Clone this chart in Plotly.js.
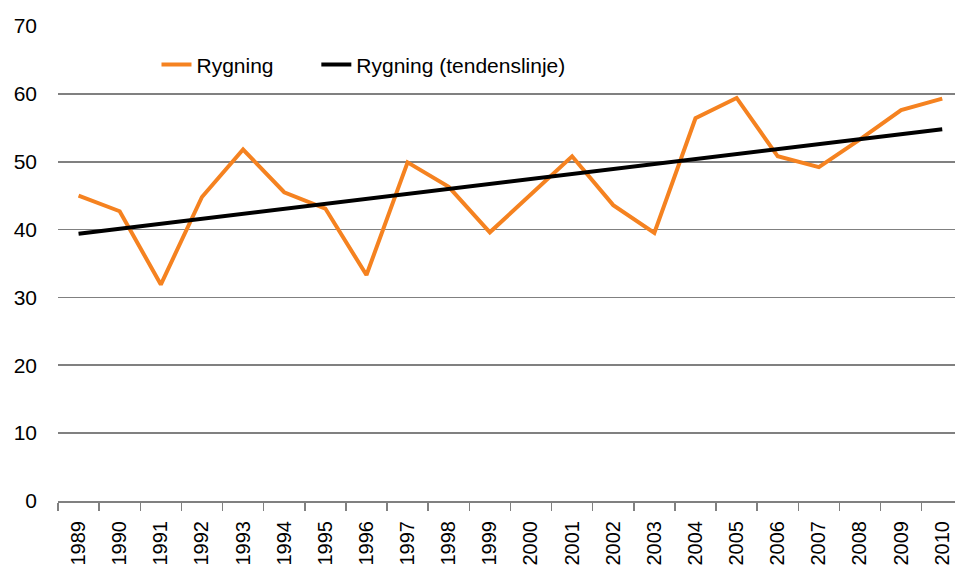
<!DOCTYPE html>
<html>
<head>
<meta charset="utf-8">
<script src="https://cdn.plot.ly/plotly-3.0.1.min.js"></script>
<style>html,body{margin:0;padding:0;background:#fff;}#chart{width:955px;height:570px;}</style>
</head>
<body>
<div id="chart"></div>
<script>
const years = ["1989","1990","1991","1992","1993","1994","1995","1996","1997","1998","1999","2000","2001","2002","2003","2004","2005","2006","2007","2008","2009","2010"];
const rygning = [45.0,42.7,31.9,44.8,51.8,45.5,43.1,33.3,49.9,46.3,39.6,45.1,50.8,43.6,39.5,56.4,59.4,50.8,49.2,53.3,57.6,59.3];
const trendYears = ["1989","2010"];
const trendValues = [39.4,54.8];
const yTicks = [0,10,20,30,40,50,60,70];

const font = "Liberation Sans, Arial, sans-serif";
const legendFont = {family: font, size: 21, color: "#000"};
const data = [
  {x: years, y: rygning, type: "scatter", mode: "lines", name: "Rygning",
   line: {color: "#F58220", width: 4}, legend: "legend"},
  {x: trendYears, y: trendValues, type: "scatter", mode: "lines", name: "Rygning (tendenslinje)",
   line: {color: "#000000", width: 4}, legend: "legend2"}
];
const layout = {
  width: 955, height: 570,
  margin: {l: 58, r: 0, t: 26, b: 69},
  paper_bgcolor: "#fff", plot_bgcolor: "#fff",
  font: {family: font, size: 20, color: "#000"},
  showlegend: true,
  legend: {orientation: "h", x: 0.1098, xanchor: "left", y: 0.918, yanchor: "middle",
    bgcolor: "rgba(0,0,0,0)", font: legendFont, itemwidth: 30},
  legend2: {orientation: "h", x: 0.288, xanchor: "left", y: 0.918, yanchor: "middle",
    bgcolor: "rgba(0,0,0,0)", font: legendFont, itemwidth: 30},
  xaxis: {type: "category", categoryorder: "array", categoryarray: years,
    range: [-0.5, 21.31], tickson: "boundaries", ticks: "outside", ticklen: 8,
    tickwidth: 1.5, tickcolor: "#808080", showline: true, linecolor: "#808080", linewidth: 2,
    showgrid: false, zeroline: false, tickangle: -90, tickfont: {family: font, size: 20},
    ticklabelstandoff: 10, fixedrange: true},
  yaxis: {range: [0, 70], tickvals: yTicks, ticktext: yTicks.map(String), showgrid: true,
    gridcolor: "#808080", gridwidth: 1.6, zeroline: false, showline: false, ticks: "",
    tickfont: {family: font, size: 21}, ticklabelstandoff: 20, fixedrange: true}
};
Plotly.newPlot("chart", data, layout, {displayModeBar: false, staticPlot: true});
</script>
</body>
</html>
